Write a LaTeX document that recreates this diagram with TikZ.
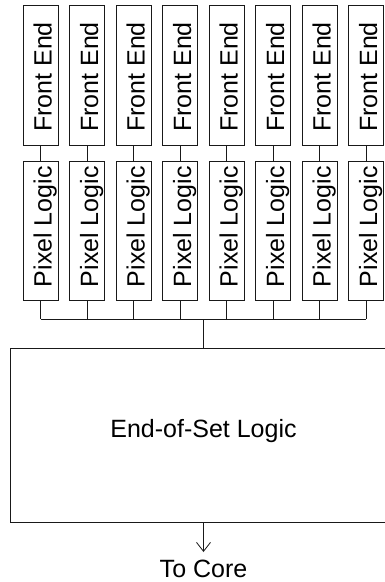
\documentclass[tikz,border=0pt]{standalone}
\usepackage{fontspec}
\setmainfont{Liberation Sans}
\usetikzlibrary{arrows.meta}
\begin{document}
\begin{tikzpicture}[x=1pt,y=-1pt,
  ln/.style={line width=0.8pt, draw=black!90},
  colbox/.style={ln, rectangle, inner sep=0pt, minimum width=35pt},
  lbl/.style={font=\fontsize{25}{30}\selectfont, inner sep=0pt, text=black}]
\useasboundingbox (0,0) rectangle (385,582);
\clip (0,0) rectangle (385,582);
\foreach \i in {1,...,8} {
  \pgfmathsetmacro\cx{40.5+46.5*(\i-1)}
  \node[colbox, minimum height=140pt] (fe\i) at (\cx,75) {};
  \node[lbl, rotate=90, anchor=base] (fet\i) at (\cx+11,77) {Front End};
  \node[colbox, minimum height=139pt] (pl\i) at (\cx,230.5) {};
  \node[lbl, rotate=90, anchor=base] (plt\i) at (\cx+11,226.7) {Pixel Logic};
  \coordinate (b\i) at (\cx,319);
  \draw[ln] (fe\i) -- (pl\i);
  \draw[ln] (pl\i) -- (b\i);
}
\draw[ln] (b1) -- (b8);
\coordinate (bm) at (203.5,319);
\node[ln, rectangle, inner sep=0pt, minimum width=387pt, minimum height=174pt] (eos) at (203.5,435) {};
\node[lbl, anchor=base] (eost) at (203.5,437) {End-of-Set Logic};
\draw[ln] (bm) -- (eos);
\coordinate (tip) at (203.5,552);
\draw[ln, -{Straight Barb[length=9pt,width=14pt]}] (eos) -- (tip);
\node[lbl, anchor=base] (core) at (203.5,577) {To Core};
\end{tikzpicture}
\end{document}
